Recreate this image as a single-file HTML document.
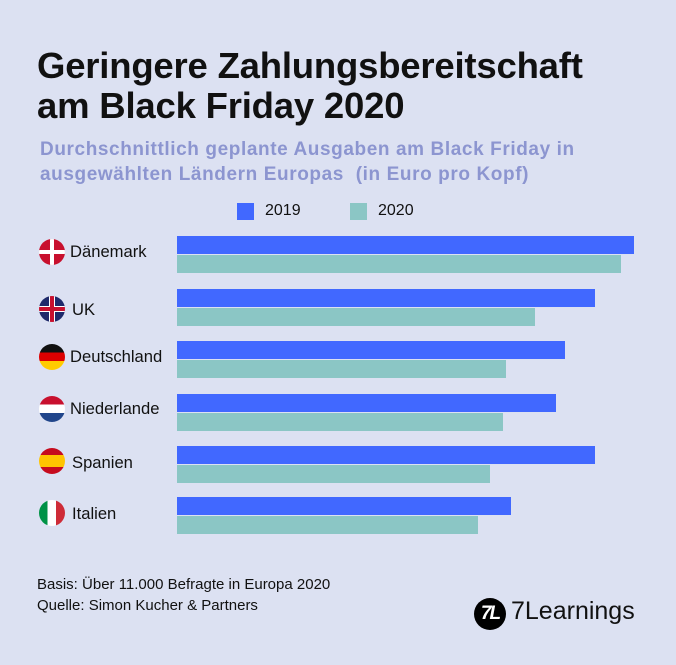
<!DOCTYPE html>
<html><head><meta charset="utf-8"><style>
body{margin:0;width:676px;height:665px;background:#dce1f2;font-family:"Liberation Sans",sans-serif;position:relative;overflow:hidden}
.a{position:absolute}
h1{position:absolute;left:37px;top:46px;margin:0;font-size:36.5px;line-height:40px;font-weight:bold;color:#111;letter-spacing:-0.2px}
.sub{left:40px;top:137px;font-size:19px;line-height:25px;font-weight:bold;color:#8c95d0;letter-spacing:0.6px}
.b1{background:#4168ff;height:18px;left:177px}
.b2{background:#8bc6c5;height:18px;left:177px}
.lab{left:70px;font-size:16.6px;color:#111}
.flag{width:26px;height:26px;border-radius:50%;left:39px;overflow:hidden}
.src{left:37px;font-size:15px;color:#111}
</style></head><body>
<h1>Geringere Zahlungsbereitschaft<br>am Black Friday 2020</h1>
<div class="a sub">Durchschnittlich geplante Ausgaben am Black Friday in<br>ausgewählten Ländern Europas&nbsp; (in Euro pro Kopf)</div>
<div class="a" style="left:237px;top:203px;width:17px;height:17px;background:#4168ff"></div>
<div class="a" style="left:265px;top:202px;font-size:16px;color:#111">2019</div>
<div class="a" style="left:350px;top:203px;width:17px;height:17px;background:#8bc6c5"></div>
<div class="a" style="left:378px;top:202px;font-size:16px;color:#111">2020</div>

<div class="a b1" style="top:236px;width:457px"></div><div class="a b2" style="top:255px;width:444px"></div>
<div class="a b1" style="top:289px;width:418px"></div><div class="a b2" style="top:308px;width:358px"></div>
<div class="a b1" style="top:341px;width:388px"></div><div class="a b2" style="top:360px;width:329px"></div>
<div class="a b1" style="top:394px;width:379px"></div><div class="a b2" style="top:413px;width:326px"></div>
<div class="a b1" style="top:446px;width:418px"></div><div class="a b2" style="top:465px;width:313px"></div>
<div class="a b1" style="top:497px;width:334px"></div><div class="a b2" style="top:516px;width:301px"></div>

<div class="a flag" style="top:239px;background:#c8102e"><div class="a" style="left:11px;top:0;width:4px;height:26px;background:#fff"></div><div class="a" style="left:0;top:11px;width:26px;height:4px;background:#fff"></div></div>
<div class="a lab" style="top:242px">Dänemark</div>
<div class="a flag" style="top:296px;background:#1f2a6b"><div class="a" style="left:10px;top:0;width:6px;height:26px;background:#fff"></div><div class="a" style="left:0;top:10px;width:26px;height:6px;background:#fff"></div><div class="a" style="left:11px;top:0;width:4px;height:26px;background:#c8102e"></div><div class="a" style="left:0;top:11px;width:26px;height:4px;background:#c8102e"></div></div>
<div class="a lab" style="top:300px;left:72px">UK</div>
<div class="a flag" style="top:344px;background:linear-gradient(#111 0 33%,#d00 33% 66%,#fc0 66%)"></div>
<div class="a lab" style="top:347px">Deutschland</div>
<div class="a flag" style="top:396px;background:linear-gradient(#c8102e 0 33%,#fff 33% 66%,#21468b 66%)"></div>
<div class="a lab" style="top:399px">Niederlande</div>
<div class="a flag" style="top:448px;background:linear-gradient(#c60b1e 0 27%,#ffc400 27% 73%,#c60b1e 73%)"></div>
<div class="a lab" style="top:453px;left:72px">Spanien</div>
<div class="a flag" style="top:500px;background:linear-gradient(90deg,#009246 0 33%,#fff 33% 66%,#ce2b37 66%)"></div>
<div class="a lab" style="top:504px;left:72px">Italien</div>

<div class="a src" style="top:576px">Basis: Über 11.000 Befragte in Europa 2020</div>
<div class="a src" style="top:597px">Quelle: Simon Kucher &amp; Partners</div>
<div class="a" style="left:474px;top:598px;width:32px;height:32px;border-radius:50%;background:#000;color:#fff;font-weight:bold;font-style:italic;font-size:19px;line-height:32px;text-align:center;letter-spacing:-2px">7L</div>
<div class="a" style="left:511px;top:597px;font-size:25px;color:#111">7Learnings</div>
</body></html>
